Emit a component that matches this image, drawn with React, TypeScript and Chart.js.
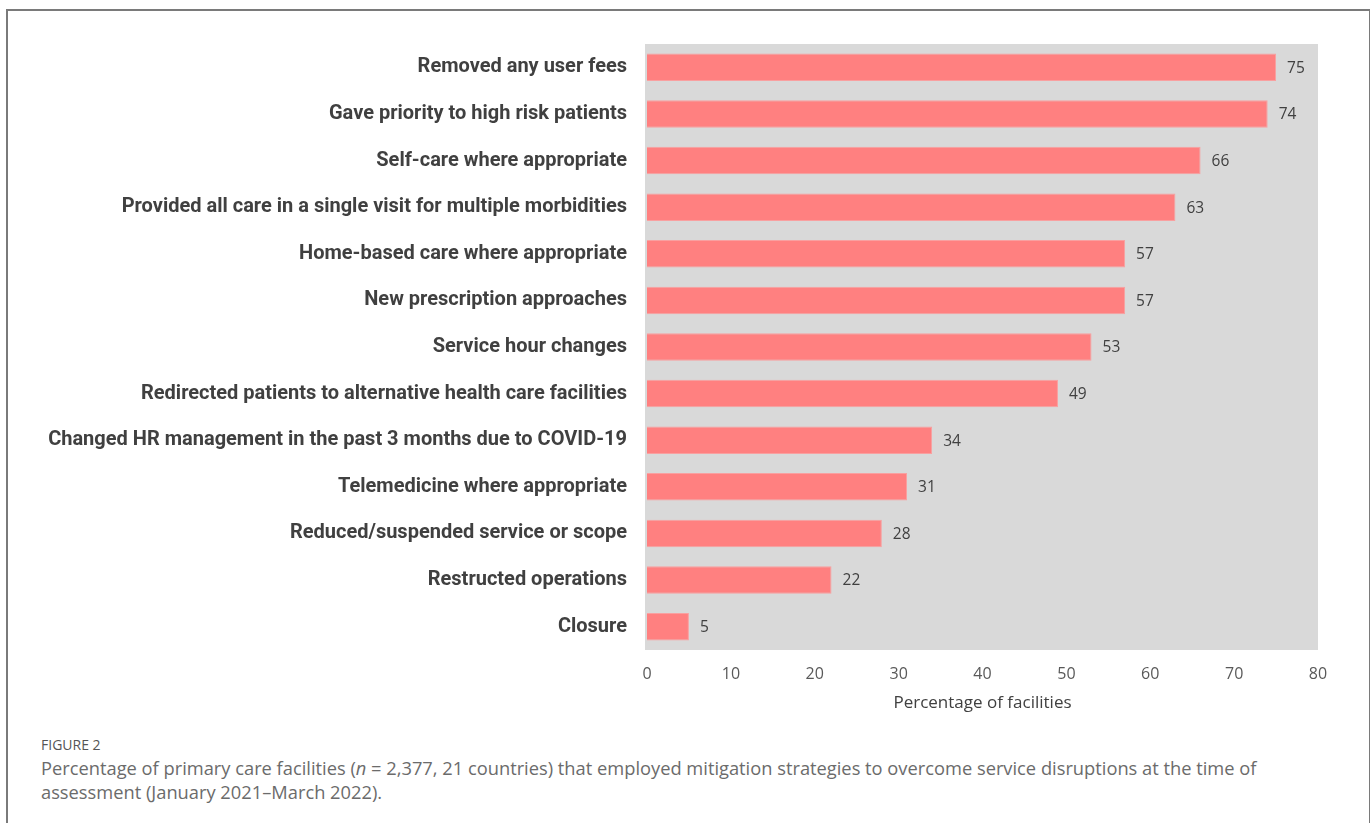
import React, { useEffect, useRef } from "react";
import { Chart, registerables } from "chart.js";

Chart.register(...registerables);

const categories = [
  "Removed any user fees",
  "Gave priority to high risk patients",
  "Self-care where appropriate",
  "Provided all care in a single visit for multiple morbidities",
  "Home-based care where appropriate",
  "New prescription approaches",
  "Service hour changes",
  "Redirected patients to alternative health care facilities",
  "Changed HR management in the past 3 months due to COVID-19",
  "Telemedicine where appropriate",
  "Reduced/suspended service or scope",
  "Restructed operations",
  "Closure",
];
const values = [75, 74, 66, 63, 57, 57, 53, 49, 34, 31, 28, 22, 5];
const xTicks = [0, 10, 20, 30, 40, 50, 60, 70, 80];

const LABEL_FONT = "Roboto, sans-serif";

const bgPlugin = {
  id: "plotBg",
  beforeDraw(chart: any) {
    const { ctx, chartArea } = chart;
    ctx.save();
    ctx.fillStyle = "#D9D9D9";
    ctx.fillRect(chartArea.left - 2, chartArea.top, chartArea.right - chartArea.left + 2, chartArea.bottom - chartArea.top);
    ctx.restore();
  },
};

const valueLabels = {
  id: "valueLabels",
  afterDatasetsDraw(chart: any) {
    const { ctx } = chart;
    const meta = chart.getDatasetMeta(0);
    ctx.save();
    ctx.fillStyle = "#404040";
    ctx.font = "15.5px 'Open Sans', sans-serif";
    ctx.textAlign = "left";
    ctx.textBaseline = "middle";
    meta.data.forEach((bar: any, i: number) => {
      ctx.fillText(String(values[i]), bar.x + 11, bar.y + 1);
    });
    ctx.restore();
  },
};

export default function App() {
  const ref = useRef<HTMLCanvasElement>(null);
  useEffect(() => {
    if (!ref.current) return;
    const chart = new Chart(ref.current, {
      type: "bar",
      data: {
        labels: categories,
        datasets: [
          {
            data: values,
            backgroundColor: "#FF8080",
            borderColor: "#F9A0A0",
            borderWidth: 1,
            barPercentage: 0.59,
            categoryPercentage: 1,
          },
        ],
      },
      options: {
        indexAxis: "y",
        animation: false,
        responsive: false,
        maintainAspectRatio: false,
        layout: { padding: { left: 0, right: 52, top: 44, bottom: 7 } },
        plugins: { legend: { display: false }, tooltip: { enabled: false } },
        scales: {
          x: {
            min: 0,
            max: 80,
            afterBuildTicks(scale: any) {
              scale.ticks = xTicks.map((v) => ({ value: v }));
            },
            afterFit(scale: any) {
              scale.height = 63;
            },
            grid: { display: false, drawTicks: false },
            border: { display: false },
            ticks: {
              color: "#595959",
              font: { size: 16, family: "'Open Sans', sans-serif" },
              padding: 15,
            },
            title: {
              display: true,
              text: "Percentage of facilities",
              color: "#404040",
              font: { size: 17, family: "'Open Sans', sans-serif" },
              padding: { top: 0, bottom: 0 },
            },
          },
          y: {
            afterFit(scale: any) {
              scale.width = 647;
            },
            grid: { display: false, drawTicks: false },
            border: { display: false },
            ticks: {
              color: "#404040",
              font: { size: 20, weight: "bold", family: LABEL_FONT },
              padding: 20,
            },
          },
        },
      },
      plugins: [bgPlugin, valueLabels],
    });
    return () => chart.destroy();
  }, []);

  return (
    <div style={{ position: "absolute", left: 0, top: 0, width: 1370, height: 823, background: "#fff", overflow: "hidden" }}>
      <div
        style={{
          position: "absolute",
          left: 6,
          top: 9,
          width: 1361,
          height: 830,
          borderTop: "2px solid #7a7a7a",
          borderLeft: "2px solid #7a7a7a",
          borderRight: "2px solid #7a7a7a",
        }}
      />
      <canvas ref={ref} width={1370} height={720} style={{ position: "absolute", left: 0, top: 0 }} />
      <div
        style={{
          position: "absolute",
          left: 41,
          top: 735,
          fontFamily: "'Open Sans', sans-serif",
          fontSize: 14,
          color: "#555",
        }}
      >
        FIGURE 2
      </div>
      <div
        style={{
          position: "absolute",
          left: 41,
          top: 756,
          fontFamily: "'Open Sans', sans-serif",
          fontSize: 18.3,
          lineHeight: "24px",
          color: "#6b6b6b",
          whiteSpace: "nowrap",
        }}
      >
        Percentage of primary care facilities (<i>n</i> = 2,377, 21 countries) that employed mitigation strategies to overcome service disruptions at the time of
        <br />
        assessment (January 2021–March 2022).
      </div>
    </div>
  );
}
